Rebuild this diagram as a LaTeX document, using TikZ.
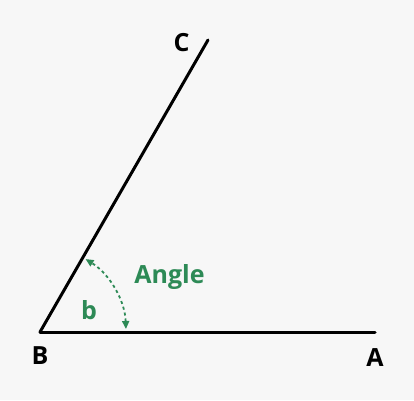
\documentclass[tikz,border=0pt]{standalone}
\usepackage{fontspec}
\setmainfont{Open Sans}
\usetikzlibrary{arrows.meta}

\definecolor{bgGray}{RGB}{247,247,247}
\definecolor{angleGreen}{RGB}{45,138,86}

\tikzset{every picture/.style={line width=0.75pt}}
\tikzset{
  ray/.style={line width=3pt, line cap=round},
  anglearc/.style={angleGreen, line width=1.8pt, dash pattern=on 3pt off 3pt,
    {Triangle[length=8pt,width=7pt]}-{Triangle[length=8pt,width=7pt]}},
  ptlabel/.style={anchor=base, inner sep=0pt, font=\fontsize{25}{28}\selectfont\bfseries},
  greenlabel/.style={ptlabel, text=angleGreen}
}

\begin{document}
\begin{tikzpicture}[x=1pt,y=1pt,yscale=-1,xscale=1]
\fill[bgGray] (0,0) rectangle (414,400);
\useasboundingbox (0,0) rectangle (414,400);

\coordinate (B) at (40,332);
\coordinate (A) at (375,332);
\coordinate (C) at (208,40);
\coordinate (arcLow) at ([shift={(-2:86)}]B);

%Straight Lines
\draw [ray]   (B) -- (A) ;
\draw [ray]   (B) -- (C) ;

%Curve Lines
\draw [anglearc]   (arcLow) arc [start angle=-2, end angle=-58, radius=86] ;

% Text Node
\draw (181.5,51) node (labelC) [ptlabel] {C};
% Text Node
\draw (40,364) node (labelB) [ptlabel] {B};
% Text Node
\draw (375,366.5) node (labelA) [ptlabel] {A};
% Text Node
\draw (169.5,283.5) node (labelAngle) [greenlabel] {Angle};
% Text Node
\draw (89,319) node (labelb) [greenlabel] {b};

\end{tikzpicture}
\end{document}
